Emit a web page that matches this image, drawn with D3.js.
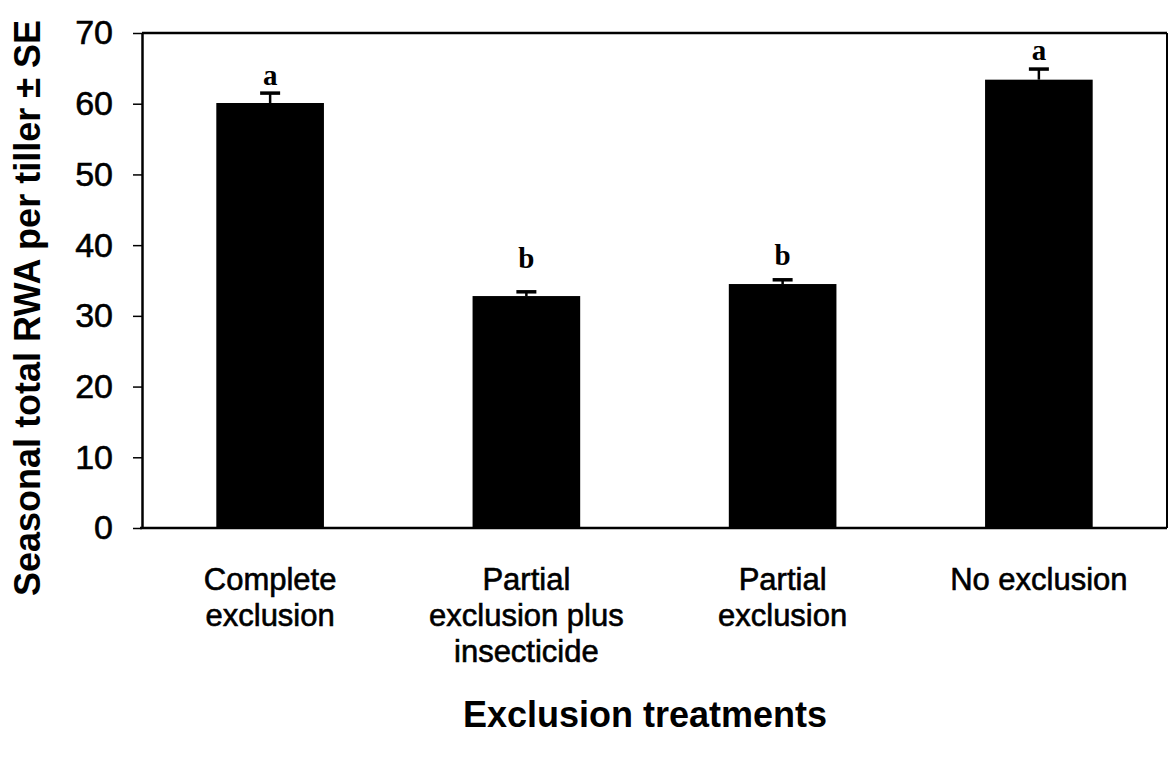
<!DOCTYPE html>
<html>
<head>
<meta charset="utf-8">
<script src="https://cdn.jsdelivr.net/npm/d3@7"></script>
<style>
  body { margin: 0; background: #fff; }
  svg text { font-family: "Liberation Sans", Arial, sans-serif; }
</style>
</head>
<body>
<div id="chart"></div>
<script>
// treatments
var treatments = [
  ["Complete", "exclusion"],
  ["Partial", "exclusion plus", "insecticide"],
  ["Partial", "exclusion"],
  ["No exclusion"]
];
var means = [60.1, 32.8, 34.5, 63.4];
var se = [1.4, 0.6, 0.6, 1.5];
var letters = ["a", "b", "b", "a"];
var letterAt = [62.7, 36.8, 37.2, 66.2];
var yTicks = [0, 10, 20, 30, 40, 50, 60, 70];

var width = 1170, height = 757;
var margin = { top: 33, right: 3, bottom: 229, left: 142 };

var svg = d3.select("#chart").append("svg")
  .attr("width", width).attr("height", height);

var xScale = d3.scaleBand()
  .domain(d3.range(means.length))
  .range([margin.left, width - margin.right])
  .paddingInner(0.58)
  .paddingOuter(0.29);

var yScale = d3.scaleLinear()
  .domain([0, 70])
  .range([height - margin.bottom, margin.top]);

// bars
svg.append("g").selectAll("rect")
  .data(means)
  .enter().append("rect")
  .attr("x", function(d, i) { return xScale(i); })
  .attr("y", function(d) { return yScale(d); })
  .attr("width", xScale.bandwidth())
  .attr("height", function(d) { return yScale(0) - yScale(d); })
  .attr("fill", "#000");

// error bars (upper only)
var eb = svg.append("g").selectAll("g")
  .data(means)
  .enter().append("g");
eb.append("line")
  .attr("x1", function(d, i) { return xScale(i) + xScale.bandwidth() / 2; })
  .attr("x2", function(d, i) { return xScale(i) + xScale.bandwidth() / 2; })
  .attr("y1", function(d) { return yScale(d); })
  .attr("y2", function(d, i) { return yScale(d + se[i]); })
  .attr("stroke", "#000").attr("stroke-width", 2.5);
eb.append("line")
  .attr("x1", function(d, i) { return xScale(i) + xScale.bandwidth() / 2 - 10; })
  .attr("x2", function(d, i) { return xScale(i) + xScale.bandwidth() / 2 + 10; })
  .attr("y1", function(d, i) { return yScale(d + se[i]); })
  .attr("y2", function(d, i) { return yScale(d + se[i]); })
  .attr("stroke", "#000").attr("stroke-width", 3.5);

// significance letters
svg.append("g").selectAll("text")
  .data(letters)
  .enter().append("text")
  .attr("x", function(d, i) { return xScale(i) + xScale.bandwidth() / 2; })
  .attr("y", function(d, i) { return yScale(letterAt[i]); })
  .attr("text-anchor", "middle")
  .style("font-family", "'Liberation Serif', 'Times New Roman', serif")
  .style("font-weight", "bold")
  .style("font-size", "29px")
  .text(function(d) { return d; });

// frame: top and right
svg.append("line")
  .attr("x1", margin.left).attr("x2", width - margin.right)
  .attr("y1", yScale(70)).attr("y2", yScale(70))
  .attr("stroke", "#000").attr("stroke-width", 2.5);
svg.append("line")
  .attr("x1", width - margin.right).attr("x2", width - margin.right)
  .attr("y1", yScale(70)).attr("y2", yScale(0))
  .attr("stroke", "#000").attr("stroke-width", 2);

// y axis
var axisy = d3.axisLeft(yScale).tickValues(yTicks).tickSize(9).tickPadding(20).tickSizeOuter(0);
var gy = svg.append("g")
  .attr("transform", "translate(" + margin.left + ",0)")
  .call(axisy);
gy.select(".domain").attr("stroke-width", 2.5);
gy.selectAll(".tick line").attr("stroke-width", 1.5);
gy.selectAll(".tick text")
  .style("font-family", "'Liberation Sans', Arial, sans-serif")
  .style("font-size", "34px")
  .attr("fill", "#000")
  .attr("stroke", "#000").attr("stroke-width", 0.6);

// x axis line
svg.append("line")
  .attr("x1", margin.left - 2).attr("x2", width - margin.right)
  .attr("y1", yScale(0)).attr("y2", yScale(0))
  .attr("stroke", "#000").attr("stroke-width", 2.5);

// category labels
var lab = svg.append("g").selectAll("text")
  .data(treatments)
  .enter().append("text")
  .attr("text-anchor", "middle")
  .style("font-size", "31px")
  .attr("fill", "#000")
  .attr("stroke", "#000").attr("stroke-width", 0.6);
lab.each(function(lines, i) {
  var t = d3.select(this);
  lines.forEach(function(s, j) {
    t.append("tspan")
      .attr("x", xScale(i) + xScale.bandwidth() / 2)
      .attr("y", yScale(0) + 62 + j * 36)
      .text(s);
  });
});

// axis titles
svg.append("text")
  .attr("x", 645).attr("y", 727)
  .attr("text-anchor", "middle")
  .style("font-weight", "bold")
  .style("font-size", "36px")
  .text("Exclusion treatments");

svg.append("text")
  .attr("transform", "translate(40,308) rotate(-90)")
  .attr("text-anchor", "middle")
  .style("font-weight", "bold")
  .style("font-size", "36px")
  .text("Seasonal total RWA per tiller \u00b1 SE");
</script>
</body>
</html>
